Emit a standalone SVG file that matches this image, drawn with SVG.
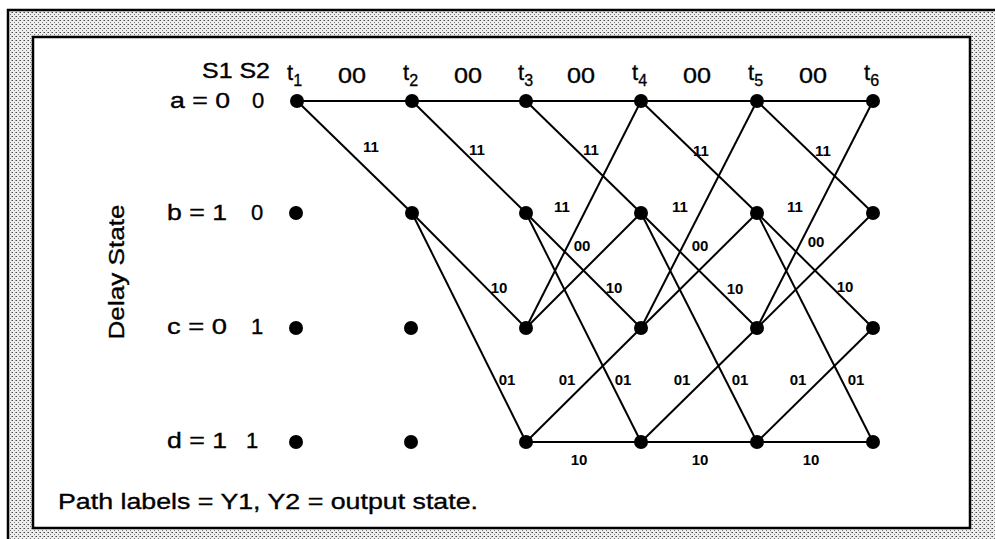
<svg xmlns="http://www.w3.org/2000/svg" width="995" height="539" viewBox="0 0 995 539">
<defs>
<pattern id="stip" width="4" height="4" patternUnits="userSpaceOnUse">
<rect width="4" height="4" fill="#eeeeee"/>
<rect x="0" y="0" width="1" height="1" fill="#444"/>
<rect x="2" y="2" width="1" height="1" fill="#777"/>
<rect x="3" y="0" width="1" height="1" fill="#999"/>
</pattern>
</defs>
<style>
.t{font-family:"Liberation Sans",Arial,sans-serif;font-size:22px;fill:#000;stroke:#000;stroke-width:0.35}
.s{font-family:"Liberation Sans",Arial,sans-serif;font-size:16px;fill:#000;stroke:#000;stroke-width:0.3}
.e{font-family:"Liberation Sans",Arial,sans-serif;font-size:15px;font-weight:bold;fill:#000;text-anchor:middle}
.c line{stroke:#000;stroke-width:2}
.n circle{fill:#000}
</style>
<rect x="0" y="0" width="995" height="539" fill="#fff"/>
<rect x="8" y="10" width="995" height="540" fill="url(#stip)" stroke="#000" stroke-width="2.5"/>
<rect x="33" y="37" width="937" height="491" fill="#fff" stroke="#000" stroke-width="2.5"/>

<g id="connectors" class="c">
<line x1="297" y1="101" x2="873" y2="101"/>
<line x1="526" y1="442" x2="873" y2="442"/>
<line x1="297" y1="101" x2="412" y2="213"/>
<line x1="412" y1="101" x2="526" y2="213"/>
<line x1="526" y1="101" x2="641" y2="213"/>
<line x1="641" y1="101" x2="757" y2="213"/>
<line x1="757" y1="101" x2="873" y2="213"/>
<line x1="412" y1="213" x2="526" y2="328"/>
<line x1="526" y1="213" x2="641" y2="328"/>
<line x1="641" y1="213" x2="757" y2="328"/>
<line x1="757" y1="213" x2="873" y2="328"/>
<line x1="412" y1="213" x2="526" y2="442"/>
<line x1="526" y1="213" x2="641" y2="442"/>
<line x1="641" y1="213" x2="757" y2="442"/>
<line x1="757" y1="213" x2="873" y2="442"/>
<line x1="526" y1="328" x2="641" y2="101"/>
<line x1="641" y1="328" x2="757" y2="101"/>
<line x1="757" y1="328" x2="873" y2="101"/>
<line x1="526" y1="328" x2="641" y2="213"/>
<line x1="641" y1="328" x2="757" y2="213"/>
<line x1="757" y1="328" x2="873" y2="213"/>
<line x1="526" y1="442" x2="641" y2="328"/>
<line x1="641" y1="442" x2="757" y2="328"/>
<line x1="757" y1="442" x2="873" y2="328"/>
</g>

<g class="n">
<g id="a1"><circle cx="297" cy="101" r="7"/></g>
<g id="a2"><circle cx="412" cy="101" r="7"/></g>
<g id="a3"><circle cx="526" cy="101" r="7"/></g>
<g id="a4"><circle cx="641" cy="101" r="7"/></g>
<g id="a5"><circle cx="757" cy="101" r="7"/></g>
<g id="a6"><circle cx="873" cy="101" r="7"/></g>
<g id="b1"><circle cx="296" cy="213" r="7"/></g>
<g id="b2"><circle cx="412" cy="213" r="7"/></g>
<g id="b3"><circle cx="526" cy="213" r="7"/></g>
<g id="b4"><circle cx="641" cy="213" r="7"/></g>
<g id="b5"><circle cx="757" cy="213" r="7"/></g>
<g id="b6"><circle cx="873" cy="213" r="7"/></g>
<g id="c1"><circle cx="296" cy="328" r="7"/></g>
<g id="c2"><circle cx="411" cy="328" r="7"/></g>
<g id="c3"><circle cx="526" cy="328" r="7"/></g>
<g id="c4"><circle cx="641" cy="328" r="7"/></g>
<g id="c5"><circle cx="757" cy="328" r="7"/></g>
<g id="c6"><circle cx="873" cy="328" r="7"/></g>
<g id="d1"><circle cx="296" cy="442" r="7"/></g>
<g id="d2"><circle cx="411" cy="442" r="7"/></g>
<g id="d3"><circle cx="526" cy="442" r="7"/></g>
<g id="d4"><circle cx="641" cy="442" r="7"/></g>
<g id="d5"><circle cx="757" cy="442" r="7"/></g>
<g id="d6"><circle cx="873" cy="442" r="7"/></g>
</g>

<g id="header">
<text class="t" x="202" y="78" textLength="68" lengthAdjust="spacingAndGlyphs">S1 S2</text>
<text class="t" x="287" y="80">t<tspan class="s" dy="6">1</tspan></text>
<text class="t" x="403" y="80">t<tspan class="s" dy="6">2</tspan></text>
<text class="t" x="518" y="80">t<tspan class="s" dy="6">3</tspan></text>
<text class="t" x="632" y="80">t<tspan class="s" dy="6">4</tspan></text>
<text class="t" x="748" y="80">t<tspan class="s" dy="6">5</tspan></text>
<text class="t" x="864" y="80">t<tspan class="s" dy="6">6</tspan></text>
<text class="t" x="338" y="83" textLength="28" lengthAdjust="spacingAndGlyphs">00</text>
<text class="t" x="454" y="83" textLength="28" lengthAdjust="spacingAndGlyphs">00</text>
<text class="t" x="567" y="83" textLength="28" lengthAdjust="spacingAndGlyphs">00</text>
<text class="t" x="683" y="83" textLength="28" lengthAdjust="spacingAndGlyphs">00</text>
<text class="t" x="799" y="83" textLength="28" lengthAdjust="spacingAndGlyphs">00</text>
</g>

<g id="rowlabels">
<text class="t" x="170" y="108" textLength="60" lengthAdjust="spacingAndGlyphs">a = 0</text>
<text class="t" x="252" y="108">0</text>
<text class="t" x="167" y="220" textLength="60" lengthAdjust="spacingAndGlyphs">b = 1</text>
<text class="t" x="251" y="220">0</text>
<text class="t" x="167" y="334" textLength="60" lengthAdjust="spacingAndGlyphs">c = 0</text>
<text class="t" x="251" y="334">1</text>
<text class="t" x="167" y="448" textLength="60" lengthAdjust="spacingAndGlyphs">d = 1</text>
<text class="t" x="246" y="448">1</text>
<text class="t" transform="translate(124,272) rotate(-90)" x="0" y="0" text-anchor="middle" font-size="24" textLength="135" lengthAdjust="spacingAndGlyphs">Delay State</text>
<text class="t" x="58" y="509" font-size="23" textLength="420" lengthAdjust="spacingAndGlyphs">Path labels = Y1, Y2 = output state.</text>
</g>

<g id="edgelabels">
<text class="e" x="371" y="152">11</text>
<text class="e" x="477" y="155">11</text>
<text class="e" x="591" y="155">11</text>
<text class="e" x="701" y="156">11</text>
<text class="e" x="823" y="156">11</text>
<text class="e" x="562" y="212">11</text>
<text class="e" x="680" y="212">11</text>
<text class="e" x="795" y="212">11</text>
<text class="e" x="582" y="251">00</text>
<text class="e" x="700" y="251">00</text>
<text class="e" x="816" y="247">00</text>
<text class="e" x="499" y="293">10</text>
<text class="e" x="614" y="293">10</text>
<text class="e" x="735" y="294">10</text>
<text class="e" x="845" y="292">10</text>
<text class="e" x="507" y="385">01</text>
<text class="e" x="567" y="385">01</text>
<text class="e" x="623" y="385">01</text>
<text class="e" x="682" y="385">01</text>
<text class="e" x="740" y="385">01</text>
<text class="e" x="798" y="385">01</text>
<text class="e" x="856" y="385">01</text>
<text class="e" x="579" y="465">10</text>
<text class="e" x="700" y="465">10</text>
<text class="e" x="811" y="465">10</text>
</g>
</svg>
